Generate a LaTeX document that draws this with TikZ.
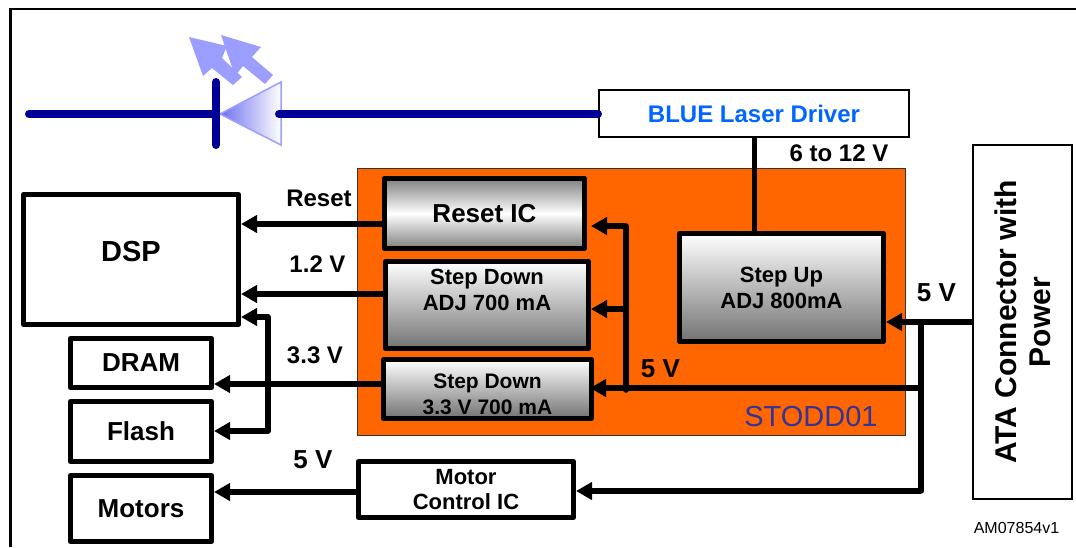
\documentclass[tikz,border=0pt]{standalone}
\usepackage{fontspec}
\setmainfont{Liberation Sans}
\usetikzlibrary{arrows.meta}
\definecolor{laser}{HTML}{000099}
\definecolor{ray}{HTML}{9B9EFF}
\definecolor{raydark}{HTML}{6F6FF0}
\definecolor{drvblue}{HTML}{0066FF}
\definecolor{stodd}{HTML}{FF6600}
\definecolor{stoddtext}{HTML}{333399}
\newcommand{\fnt}[2]{\fontsize{#1}{#2}\selectfont\bfseries}
\tikzset{
    blk/.style={draw=black,line width=5pt,line join=round,inner sep=0pt,align=center,font=\fnt{26}{30}},
    thin blk/.style={draw=black,line width=2pt,inner sep=0pt,align=center},
    reg/.style={blk,font=\fnt{22}{26},top color=white,bottom color=black!55},
    regtxt/.style={inner sep=0pt,align=center,font=\fnt{22}{26}},
    volt/.style={inner sep=0pt,font=\fnt{24}{28}},
    bus/.style={line width=6pt,-{Triangle[length=16pt,width=17pt]}},
    wire/.style={line width=5.5pt,line cap=round,line join=round},
    beam/.style={laser,line width=8pt,line cap=round}
}
\begin{document}
\begin{tikzpicture}[x=1pt,y=-1pt]
    \useasboundingbox (0,0) rectangle (1076,547);

    \draw[line width=2.5pt] (10.5,547) -- (10.5,9) -- (1076,9);

    \fill[ray] (189,37) -- (227,46) -- (222,58) -- (242,77) -- (233,85) -- (212,68) -- (203,76) -- cycle;
    \fill[ray] (221,35) -- (261,47) -- (252,57) -- (273,75) -- (265,84) -- (243,66) -- (235,76) -- cycle;
    \draw[draw=ray,line width=1.5pt,left color=raydark,right color=white] (220,114) -- (281,82) -- (281,145) -- cycle;

    \coordinate (beamL) at (29,114);
    \coordinate (beamM) at (216,114);
    \coordinate (beamR) at (279,114);
    \coordinate (barT) at (216,82);
    \coordinate (barB) at (216,145);

    \node[thin blk,minimum width=310pt,minimum height=47pt,text=drvblue,font=\fnt{24}{28}] (drv) at (754,113.5) {BLUE Laser Driver};
    \draw[beam] (beamL) -- (beamM);
    \draw[beam] (barT) -- (barB);
    \draw[beam] (beamR) -- (beamR -| drv.west);

    \node[draw=black!80,line width=1.5pt,fill=stodd,minimum width=548pt,minimum height=267pt] (ic) at (631.5,302) {};
    \node[inner sep=0pt,text=stoddtext,font=\fontsize{29}{33}\selectfont] (ictxt) at (811,417) {STODD01};

    \node[blk,minimum width=200pt,minimum height=70pt,top color=black!50,bottom color=black!50,middle color=white] (rst) at (484.5,213.5) {Reset IC};
    \node[reg,minimum width=203pt,minimum height=87pt] (dnadj) at (487,305) {};
    \node[regtxt] (dnadjtxt) at (487,290) {Step Down\\ADJ 700 mA};
    \node[reg,minimum width=208pt,minimum height=59pt] (dnthree) at (487.5,389) {};
    \node[regtxt,font=\fnt{21}{26}] (dnthreetxt) at (487.5,394) {Step Down\\3.3 V 700 mA};
    \node[reg,minimum width=204pt,minimum height=108pt] (up) at (781.5,287.5) {Step Up\\ADJ 800mA};

    \node[blk,minimum width=215pt,minimum height=130pt] (dsp) at (131,259.5) {};
    \node[inner sep=0pt,font=\fnt{29}{33}] (dsptxt) at (131,252) {DSP};
    \node[blk,minimum width=141pt,minimum height=49pt] (dram) at (141,363) {DRAM};
    \node[blk,minimum width=141pt,minimum height=60pt] (flash) at (141,431.5) {Flash};
    \node[blk,minimum width=141pt,minimum height=66pt] (motors) at (141,508.5) {Motors};
    \node[blk,minimum width=215pt,minimum height=56pt,font=\fnt{22}{25}] (mctl) at (466,489.5) {Motor\\Control IC};
    \node[thin blk,rotate=90,minimum width=354pt,minimum height=99pt,font=\fnt{30}{34}] (ata) at (1022.5,322) {ATA Connector with\\Power};

    \coordinate (jA) at (921,322);
    \coordinate (jB) at (921,388);
    \coordinate (jC) at (921,491);
    \coordinate (jD) at (626,390);
    \coordinate (jE) at (626,226);
    \coordinate (jF) at (626,309);
    \coordinate (mtop) at (268,317);
    \coordinate (mbot) at (268,431);

    \draw[line width=5pt] (drv.south) -- (drv.south |- up.north);

    \draw[bus] ([yshift=-10.5pt]rst.west) -- ([yshift=-10.5pt]rst.west -| dsp.east);
    \draw[bus] ([xshift=4pt,yshift=11pt]dnadj.west) -- ([yshift=11pt]dnadj.west -| dsp.east);
    \draw[bus] ([yshift=5pt]dnthree.west) -- ([yshift=5pt]dnthree.west -| dram.east);
    \draw[bus] ([yshift=-2.5pt]mctl.west) -- ([yshift=-2.5pt]mctl.west -| motors.east);

    \draw[bus] (ata.north) -- (ata.north -| up.east);
    \draw[wire] (jA) -- (jC);
    \draw[bus] (jC) -- (jC -| mctl.east);
    \draw[bus] (jB) -- ([xshift=-4pt]jB -| dnthree.east);
    \draw[wire] (jD) -- (jE);
    \draw[bus] (jE) -- ([xshift=4pt]jE -| rst.east);
    \draw[bus] (jF) -- (jF -| dnadj.east);

    \draw[line width=5.5pt,line join=round,{Triangle[length=16pt,width=17pt]}-{Triangle[length=16pt,width=17pt]}] (mtop -| dsp.east) -- (mtop) -- (mbot) -- (mbot -| flash.east);

    \node[volt] (vrst) at (319,198) {Reset};
    \node[volt] (vone) at (317.5,264) {1.2 V};
    \node[volt] (vthree) at (315,355) {3.3 V};
    \node[volt,font=\fnt{26}{30}] (vmot) at (313,460) {5 V};
    \node[volt,font=\fnt{26}{30}] (vin) at (660.5,369) {5 V};
    \node[volt,font=\fnt{26}{30}] (vup) at (936.5,293) {5 V};
    \node[volt] (vlas) at (839,153) {6 to 12 V};
    \node[inner sep=0pt,font=\fontsize{16}{19}\selectfont] (amref) at (1016.5,528) {AM07854v1};
\end{tikzpicture}
\end{document}
